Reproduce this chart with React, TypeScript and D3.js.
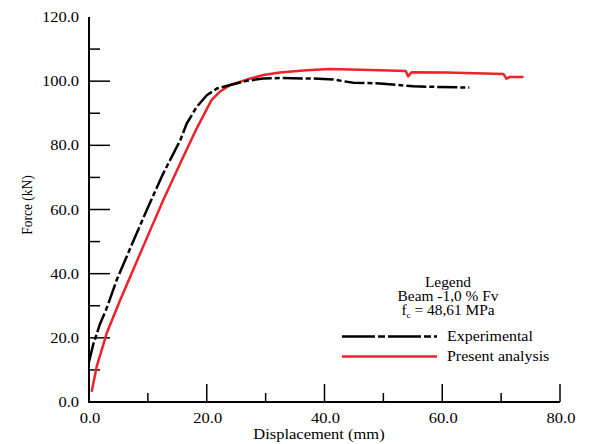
import { useEffect, useRef } from 'react'
import * as d3 from 'd3'

// Experimental curve (mm, kN)
const expX = [0, 0.7, 1.9, 3.0, 4.7, 7.0, 9.8, 12.6, 15.5, 16.6, 18.3, 20.0, 21.7, 24.0, 26.8, 29.6, 32.4, 38.1, 41.5, 44.9, 49.4, 55.1, 59.1, 64.6]
const expY = [12.5, 17.8, 24.5, 29.2, 38.0, 47.9, 59.8, 71.2, 81.6, 86.8, 92.0, 95.6, 97.7, 98.8, 100.1, 100.8, 101.0, 100.8, 100.5, 99.5, 99.3, 98.4, 98.2, 98.0]

// Present analysis curve (mm, kN)
const anaX = [0.45, 1.3, 2.15, 3.0, 5.3, 9.8, 12.6, 15.5, 18.3, 20.8, 22.2, 24.0, 26.8, 29.6, 32.4, 37.0, 40.9, 49.4, 53.8, 54.2, 54.8, 60.7, 70.4, 70.9, 71.5, 73.8]
const anaY = [3.2, 11.0, 16.2, 21.4, 31.8, 51.0, 62.9, 74.4, 85.3, 94.1, 96.7, 98.8, 100.5, 101.9, 102.7, 103.4, 103.8, 103.4, 103.2, 101.5, 102.8, 102.7, 102.2, 100.8, 101.3, 101.3]

const xMajor = [0, 20, 40, 60, 80]
const xMinor = [10, 30, 50, 70]
const yMajor = [0, 20, 40, 60, 80, 100, 120]
const yMinor = [10, 30, 50, 70, 90, 110]

const legendTitle = ['Legend', 'Beam -1,0 % Fv']
const seriesNames = ['Experimental', 'Present analysis']

export default function App() {
  const svgRef = useRef<SVGSVGElement>(null)

  useEffect(() => {
    const width = 601, height = 444
    const font = '"Liberation Serif", "Times New Roman", serif'
    const svg = d3.select(svgRef.current)
    svg.selectAll('*').remove()
    svg.attr('width', width).attr('height', height).style('background', 'white')

    const x = d3.scaleLinear().domain([0, 80]).range([89, 560])
    const y = d3.scaleLinear().domain([0, 120]).range([402, 17])

    // the source text is a little wider than it is tall
    const label = (t: string, tx: number, ty: number, anchor: string, size: number) =>
      svg.append('text').text(t)
        .attr('transform', `translate(${tx},${ty}) scale(1.1,1)`)
        .attr('text-anchor', anchor).attr('font-family', font).attr('font-size', size)

    // axes
    svg.append('line')
      .attr('x1', x(0)).attr('x2', x(0)).attr('y1', y(120)).attr('y2', y(0) + 1)
      .attr('stroke', 'black').attr('stroke-width', 2)
    svg.append('line')
      .attr('x1', x(0) - 1).attr('x2', x(80)).attr('y1', y(0)).attr('y2', y(0))
      .attr('stroke', 'black').attr('stroke-width', 2)

    // y ticks point inward (right)
    yMajor.filter(v => v < 120).forEach(v => {
      svg.append('line').attr('x1', x(0)).attr('x2', x(0) + 21)
        .attr('y1', y(v)).attr('y2', y(v)).attr('stroke', 'black').attr('stroke-width', 1.5)
    })
    yMinor.forEach(v => {
      svg.append('line').attr('x1', x(0)).attr('x2', x(0) + 11)
        .attr('y1', y(v)).attr('y2', y(v)).attr('stroke', 'black').attr('stroke-width', 1.5)
    })
    yMajor.forEach(v => label(v.toFixed(1), 79, y(v) + 5, 'end', 15))

    // x ticks point up
    xMajor.filter(v => v > 0).forEach(v => {
      svg.append('line').attr('x1', x(v)).attr('x2', x(v))
        .attr('y1', y(0)).attr('y2', y(0) - 18).attr('stroke', 'black').attr('stroke-width', 1.5)
    })
    xMinor.forEach(v => {
      svg.append('line').attr('x1', x(v)).attr('x2', x(v))
        .attr('y1', y(0)).attr('y2', y(0) - 9).attr('stroke', 'black').attr('stroke-width', 1.5)
    })
    xMajor.forEach(v => label(v.toFixed(1), x(v) + 1, 423, 'middle', 15))

    // axis titles
    label('Displacement (mm)', 319, 439, 'middle', 15)
    svg.append('text').text('Force (kN)')
      .attr('transform', 'translate(32,205) rotate(-90) scale(1,1.1)')
      .attr('text-anchor', 'middle').attr('font-family', font).attr('font-size', 13.5)

    // curves
    const expPts = expX.map((d, i) => [x(d), y(expY[i])] as [number, number])
    const anaPts = anaX.map((d, i) => [x(d), y(anaY[i])] as [number, number])

    svg.append('path').attr('d', d3.line()(anaPts))
      .attr('fill', 'none').attr('stroke', '#ee2228').attr('stroke-width', 2.5)
      .attr('stroke-linejoin', 'round')
    svg.append('path').attr('d', d3.line()(expPts))
      .attr('fill', 'none').attr('stroke', 'black').attr('stroke-width', 2.5)
      .attr('stroke-dasharray', '20,3,5,3').attr('stroke-linejoin', 'round')

    // legend
    const lx = 448
    legendTitle.forEach((t, i) => label(t, lx, 287 + i * 14, 'middle', 14))
    const fc = label('', lx, 315, 'middle', 14)
    fc.append('tspan').text('f')
    fc.append('tspan').text('c').attr('font-size', 8.5).attr('dy', 3)
    fc.append('tspan').text(' = 48,61 MPa').attr('dy', -3)

    const legendRows = [
      { y: 336.5, stroke: 'black', dash: '33,3,7,3' },
      { y: 356.5, stroke: '#ee2228', dash: null },
    ]
    legendRows.forEach((r, i) => {
      svg.append('line').attr('x1', 342).attr('x2', 437)
        .attr('y1', r.y).attr('y2', r.y)
        .attr('stroke', r.stroke).attr('stroke-width', 2.5)
        .attr('stroke-dasharray', r.dash)
      label(seriesNames[i], 447, r.y + 4.5, 'start', 14.5)
    })
  }, [])

  return (
    <div style={{ position: 'fixed', left: 0, top: 0 }}>
      <svg ref={svgRef} style={{ display: 'block' }} />
    </div>
  )
}
